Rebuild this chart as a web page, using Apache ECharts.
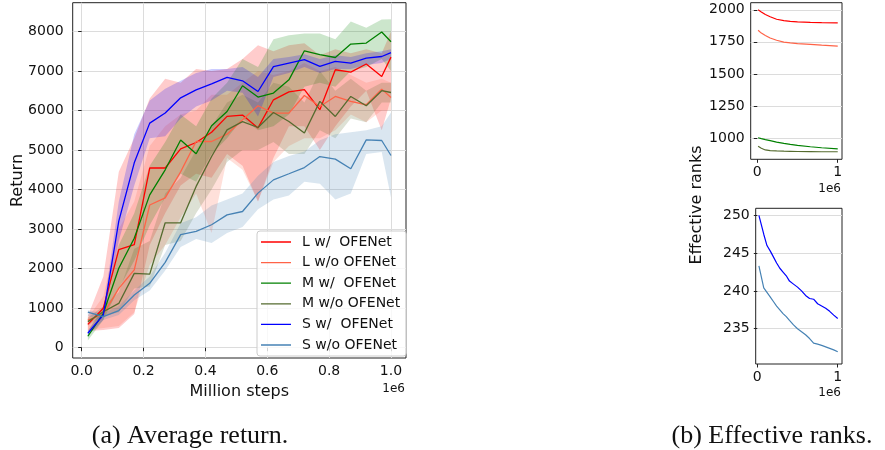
<!DOCTYPE html>
<html><head><meta charset="utf-8">
<script src="https://cdn.jsdelivr.net/npm/echarts@6/dist/echarts.min.js"></script>
<style>html,body{margin:0;padding:0;background:#fff}#c{width:885px;height:450px}</style>
</head><body><div id="c"></div>
<script>
// ---------- (a) Average return ----------
const xSteps = [0.02,0.07,0.12,0.17,0.22,0.27,0.32,0.37,0.42,0.47,0.52,0.57,0.62,0.67,0.72,0.77,0.82,0.87,0.92,0.97,1.0];
const xTickValues = [0, 0.2, 0.4, 0.6, 0.8, 1.0];
const yTickValues = [0,1000,2000,3000,4000,5000,6000,7000,8000];

const lwMean  = [590,1000,2480,2610,4545,4545,5030,5190,5450,5850,5885,5560,6270,6470,6525,6020,7030,6970,7175,6860,7350];
const lwLow   = [420,450,500,850,2600,3400,4100,4400,4300,4900,4600,3700,4800,5600,5600,5000,5600,6100,6500,5500,6300];
const lwHigh  = [800,1800,4450,5300,6300,6800,6700,7050,7000,7050,7300,7650,7500,7650,7700,7400,7550,7450,7550,7450,8000];

const lwoMean = [700,850,1500,1970,3610,3790,4450,5215,5215,5400,5765,6120,5935,5935,6380,6100,6355,6230,6145,6540,6330];
const lwoLow  = [450,500,550,900,2100,2600,3300,3900,2900,4800,4500,3700,4700,5100,5300,5300,5500,5900,5700,6000,6000];
const lwoHigh = [750,1300,3000,3700,5100,5600,5900,6000,6400,6400,6700,7000,6900,7000,7200,7000,7100,6900,6700,6800,6700];

const mwMean  = [290,870,2010,2770,3866,4500,5255,4905,5615,5975,6625,6340,6440,6775,7510,7410,7340,7680,7705,7985,7740];
const mwLow   = [180,700,1500,2200,3100,3800,4400,4200,4900,5300,5800,5500,5600,5900,6600,6700,6600,7000,7100,7300,7000];
const mwHigh  = [420,1050,2600,3400,4600,5200,5900,5600,6300,6700,7300,7100,7800,7900,7950,7950,7800,8250,8090,8300,8310];

const mwoMean = [660,910,1120,1880,1860,3160,3160,4080,4835,5510,5720,5570,5950,5720,5430,6230,5850,6355,6120,6500,6455];
const mwoLow  = [560,800,900,1500,1550,2600,2700,3400,4000,4700,5000,5000,5200,4900,4900,5500,5300,5800,5700,6200,6200];
const mwoHigh = [760,1050,1400,2500,2700,3900,4300,5000,5600,6200,6400,6200,6700,6600,6200,7000,6500,6800,6500,6700,6700];

const swMean  = [365,830,3200,4676,5680,5935,6320,6520,6675,6835,6750,6480,7110,7200,7285,7115,7240,7200,7325,7365,7465];
const swLow   = [300,700,2700,4100,5300,5350,5800,6100,6250,6500,6450,5850,6850,6950,7100,6950,7050,7050,7150,7200,7300];
const swHigh  = [430,950,3700,5400,6250,6550,6750,6950,7050,7050,7100,6850,7300,7350,7420,7300,7400,7350,7450,7500,7550];

const swoMean = [900,785,940,1335,1630,2160,2860,2945,3110,3360,3445,3910,4245,4400,4557,4835,4770,4525,5258,5241,4861];
const swoLow  = [800,700,830,1200,1450,1950,2550,2750,2650,2900,3050,3500,3750,3850,4200,4150,3750,3900,4900,4950,3800];
const swoHigh = [950,870,1050,1450,1800,2400,3150,3300,3600,3750,3900,4350,4700,4850,4960,5250,5400,5450,5500,5600,5950];

// ---------- (b) Effective ranks ----------
const rankXTop = [0.01,0.05,0.1,0.16,0.24,0.33,0.41,0.5,0.66,0.8,1.0];
const rankLw   = [2000,1983,1963,1945,1926,1915,1910,1906,1902,1900,1898];
const rankLwo  = [1840,1818,1800,1780,1762,1748,1742,1736,1730,1724,1716];
const rankMw   = [1002,995,987,979,968,958,950,943,932,924,915];
const rankMwo  = [935,920,907,902,899,897,896,895,894,893,893];
const rankTopTicks = [1000,1250,1500,1750,2000];

const rankXBot = [0.02,0.08,0.12,0.16,0.2,0.24,0.28,0.32,0.36,0.4,0.45,0.5,0.55,0.6,0.65,0.7,0.75,0.8,0.85,0.9,0.95,1.0];
const rankSw   = [250.0,247.5,246.0,245.3,244.5,243.7,243.0,242.5,242.0,241.3,240.9,240.5,240.0,239.4,239.0,238.9,238.3,238.0,237.7,237.3,236.8,236.35];
const rankSwo  = [243.3,240.4,239.8,239.2,238.6,238.0,237.5,237.0,236.6,236.1,235.5,235.0,234.6,234.2,233.7,233.1,232.95,232.8,232.6,232.4,232.2,231.95];
const rankBotTicks = [235,240,245,250];
const rankXTicks = [0,1];

const names = ['L w/  OFENet','L w/o OFENet','M w/  OFENet','M w/o OFENet','S w/  OFENet','S w/o OFENet'];
const colors = ['#ff0000','#ff6347','#008000','#556b2f','#0000ff','#4682b4'];

const chart = echarts.init(document.getElementById('c'), null, {renderer:'canvas'});
const FONT = 'DejaVu Sans';
const pairs = (xs, ys) => xs.map((x, i) => [x, ys[i]]);

// shaded band drawn as a polygon through the axis scales
function bandSeries(color, xs, low, high, gi) {
  const rows = xs.map((x, i) => [x, low[i], high[i]]);
  return {
    type:'custom', xAxisIndex:gi, yAxisIndex:gi, data:rows, silent:true, clip:true, z:1,
    encode:{x:0, y:[1,2]},
    renderItem:function (params, api) {
      if (params.dataIndex !== 0) return null;
      const pts = [];
      for (let i = 0; i < rows.length; i++) pts.push(api.coord([rows[i][0], rows[i][2]]));
      for (let i = rows.length - 1; i >= 0; i--) pts.push(api.coord([rows[i][0], rows[i][1]]));
      return {type:'polygon', shape:{points:pts}, style:{fill:color, opacity:0.2, stroke:null}};
    }
  };
}
function lineSeries(name, color, xs, ys, gi) {
  return {name:name, type:'line', xAxisIndex:gi, yAxisIndex:gi, data:pairs(xs, ys), symbol:'none',
    lineStyle:{color:color, width:1.3}, itemStyle:{color:color}, z:2};
}

const means = [lwMean,lwoMean,mwMean,mwoMean,swMean,swoMean];
const lows = [lwLow,lwoLow,mwLow,mwoLow,swLow,swoLow];
const highs = [lwHigh,lwoHigh,mwHigh,mwoHigh,swHigh,swoHigh];
const series = [];
for (let k = 0; k < 6; k++) {
  series.push(bandSeries(colors[k], xSteps, lows[k], highs[k], 0));
  series.push(lineSeries(names[k], colors[k], xSteps, means[k], 0));
}
[rankLw, rankLwo, rankMw, rankMwo].forEach((d, k) => {
  const s = lineSeries(undefined, colors[k], rankXTop, d, 1); s.lineStyle.width = 1.2; series.push(s);
});
[rankSw, rankSwo].forEach((d, k) => {
  const s = lineSeries(undefined, colors[k+4], rankXBot, d, 2); s.lineStyle.width = 1.2; series.push(s);
});

const gridLine = {show:true, lineStyle:{color:'#dcdcdc', width:1}};
const tick = (vals) => ({show:true, length:3.5, lineStyle:{color:'#222', width:1}, customValues:vals});
const lbl = (vals, margin, fmt) => ({show:true, color:'#111', fontFamily:FONT, fontSize:14, margin:margin, customValues:vals, formatter:fmt});

const option = {
  animation:false,
  backgroundColor:'#fff',
  grid:[
    {left:72.7, top:2.7, width:333.3, height:355.3, show:true, borderColor:'#222', borderWidth:1, backgroundColor:'transparent', containLabel:false, outerBoundsMode:'none'},
    {left:750.7, top:2.7, width:91.3, height:156.6, show:true, borderColor:'#222', borderWidth:1, backgroundColor:'transparent', containLabel:false, outerBoundsMode:'none'},
    {left:755.7, top:208.3, width:86.3, height:155.7, show:true, borderColor:'#222', borderWidth:1, backgroundColor:'transparent', containLabel:false, outerBoundsMode:'none'}
  ],
  xAxis:[
    {type:'value', gridIndex:0, min:-0.029, max:1.0485, axisLine:{show:false}, axisTick:tick(xTickValues),
     axisLabel:lbl(xTickValues, 6, v => Number(v).toFixed(1)), splitLine:gridLine},
    {type:'value', gridIndex:1, min:-0.082, max:1.053, axisLine:{show:false}, axisTick:tick(rankXTicks),
     axisLabel:lbl(rankXTicks, 6, v => String(Math.round(v))), splitLine:{show:false}},
    {type:'value', gridIndex:2, min:-0.02, max:1.053, axisLine:{show:false}, axisTick:tick(rankXTicks),
     axisLabel:lbl(rankXTicks, 6, v => String(Math.round(v))), splitLine:{show:false}}
  ],
  yAxis:[
    {type:'value', gridIndex:0, min:-260, max:8726, axisLine:{show:false}, axisTick:tick(yTickValues),
     axisLabel:lbl(yTickValues, 9, v => String(Math.round(v))), splitLine:gridLine},
    {type:'value', gridIndex:1, min:834, max:2055, axisLine:{show:false}, axisTick:tick(rankTopTicks),
     axisLabel:lbl(rankTopTicks, 6, v => String(Math.round(v))), splitLine:gridLine},
    {type:'value', gridIndex:2, min:230.33, max:250.93, axisLine:{show:false}, axisTick:tick(rankBotTicks),
     axisLabel:lbl(rankBotTicks, 6, v => String(Math.round(v))), splitLine:gridLine}
  ],
  legend:{
    data:names, orient:'vertical', left:257, top:231, itemGap:6.6, itemWidth:36, itemHeight:14,
    icon:'path://M0,0 M0,6.35 L30,6.35 L30,7.65 L0,7.65 Z M36,14',
    padding:[4,6,4,4], backgroundColor:'rgba(255,255,255,0.8)', borderColor:'#cccccc', borderWidth:1, borderRadius:3,
    textStyle:{fontFamily:FONT, fontSize:14, color:'#111'}, selectedMode:false, z:10
  },
  series:series,
  graphic:[
    {type:'text', x:18, y:180.5, rotation:Math.PI/2, style:{text:'Return', font:'16px "DejaVu Sans"', fill:'#111', align:'center', verticalAlign:'middle'}},
    {type:'text', x:239.3, y:391.7, style:{text:'Million steps', font:'16px "DejaVu Sans"', fill:'#111', align:'center', verticalAlign:'middle'}},
    {type:'text', x:405, y:389, style:{text:'1e6', font:'12px "DejaVu Sans"', fill:'#111', align:'right', verticalAlign:'middle'}},
    {type:'text', x:841, y:189.3, style:{text:'1e6', font:'12px "DejaVu Sans"', fill:'#111', align:'right', verticalAlign:'middle'}},
    {type:'text', x:841, y:393.3, style:{text:'1e6', font:'12px "DejaVu Sans"', fill:'#111', align:'right', verticalAlign:'middle'}},
    {type:'text', x:697, y:205, rotation:Math.PI/2, style:{text:'Effective ranks', font:'16px "DejaVu Sans"', fill:'#111', align:'center', verticalAlign:'middle'}},
    {type:'text', x:190, y:436, style:{text:'(a) Average return.', font:'26px "Liberation Serif"', fill:'#111', align:'center', verticalAlign:'middle'}},
    {type:'text', x:772, y:436, style:{text:'(b) Effective ranks.', font:'26px "Liberation Serif"', fill:'#111', align:'center', verticalAlign:'middle'}}
  ]
};
chart.setOption(option);
</script>
</body></html>
